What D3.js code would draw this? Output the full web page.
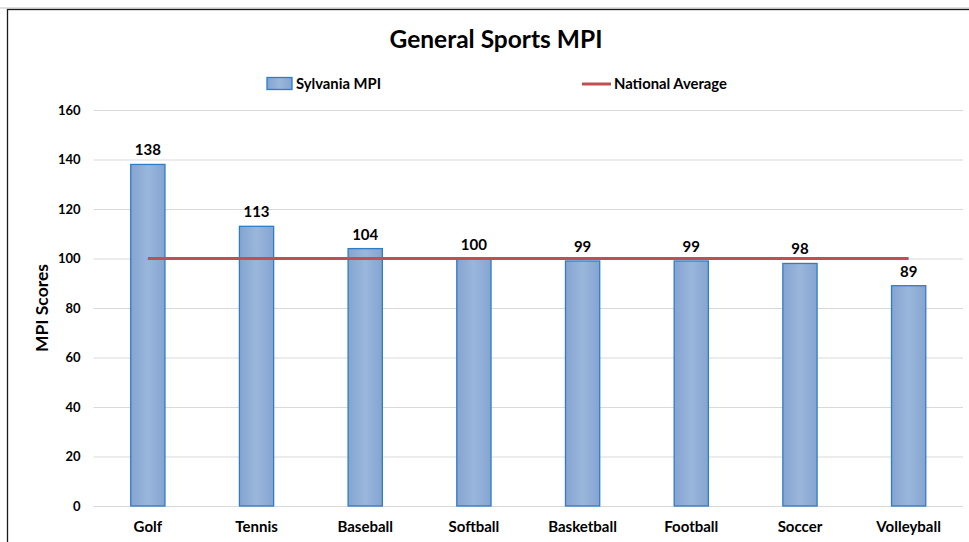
<!DOCTYPE html>
<html><head><meta charset="utf-8">
<script src="https://cdn.jsdelivr.net/npm/d3@7"></script>
<style>body{margin:0;background:#fff}svg{display:block}text{font-family:Lato,"Open Sans",sans-serif;font-weight:bold;fill:#000}</style>
</head><body>
<svg id="c" width="969" height="542"></svg>
<script>
const categories=["Golf","Tennis","Baseball","Softball","Basketball","Football","Soccer","Volleyball"];
const sylvaniaMPI=[138,113,104,100,99,99,98,89];
const nationalAverage=[100,100,100,100,100,100,100,100];
const yTicks=[0,20,40,60,80,100,120,140,160];

const svg=d3.select("#c");
const W=969,H=542;
const m={left:93.5,right:6,top:110,bottom:36};
svg.append("line").attr("x1",0).attr("x2",W).attr("y1",8).attr("y2",8).attr("stroke","#bfbfbf").attr("stroke-width",1);
svg.append("rect").attr("x",7.5).attr("y",9.5).attr("width",980).attr("height",600).attr("fill","#fff").attr("stroke","#1a1a1a").attr("stroke-width",1.3);

const x=d3.scaleBand().domain(categories).range([m.left,W-m.right]).paddingInner(0.685).paddingOuter(0.3425);
const y=d3.scaleLinear().domain([0,160]).range([H-m.bottom,m.top]);

const defs=svg.append("defs");
const g=defs.append("linearGradient").attr("id","bg").attr("x1","0").attr("x2","1").attr("y1","0").attr("y2","0");
g.append("stop").attr("offset","0").attr("stop-color","#85a4d0");
g.append("stop").attr("offset","0.5").attr("stop-color","#9ab6dc");
g.append("stop").attr("offset","1").attr("stop-color","#85a4d0");

// grid
const ya=d3.axisLeft(y).tickValues(yTicks).tickSize(-(W-m.right-m.left)).tickPadding(13);
const yg=svg.append("g").attr("transform",`translate(${m.left},0)`).call(ya);
yg.select(".domain").remove();
yg.selectAll(".tick line").attr("stroke","#d9d9d9").attr("stroke-width",1.2);
yg.selectAll(".tick text").style("font-size","13px").attr("fill","#000");

const xa=d3.axisBottom(x).tickSize(0).tickPadding(15);
const xg=svg.append("g").attr("transform",`translate(0,${y(0)})`).call(xa);
xg.select(".domain").remove();
xg.selectAll(".tick text").style("font-size","15px").attr("fill","#000");

svg.append("g").selectAll("rect").data(categories).join("rect")
 .attr("x",d=>x(d)).attr("width",x.bandwidth())
 .attr("y",(d,i)=>y(sylvaniaMPI[i])).attr("height",(d,i)=>y(0)-y(sylvaniaMPI[i]))
 .attr("fill","url(#bg)").attr("stroke","#2f7cc8").attr("stroke-width",1.3);

svg.append("g").selectAll("text").data(categories).join("text")
 .attr("x",d=>x(d)+x.bandwidth()/2).attr("y",(d,i)=>y(sylvaniaMPI[i])-9)
 .attr("text-anchor","middle").style("font-size","15px").text((d,i)=>sylvaniaMPI[i]);

const line=d3.line().x((d,i)=>x(categories[i])+x.bandwidth()/2).y(d=>y(d));
svg.append("path").datum(nationalAverage).attr("d",line).attr("fill","none").attr("stroke","#c0504d").attr("stroke-width",3);

svg.append("text").attr("x",496).attr("y",48).attr("text-anchor","middle").style("font-size","24.5px").text("General Sports MPI");

svg.append("rect").attr("x",267).attr("y",77.5).attr("width",25).attr("height",12).attr("fill","url(#bg)").attr("stroke","#2f7cc8").attr("stroke-width",1.3);
svg.append("text").attr("x",296).attr("y",89).style("font-size","14.8px").text("Sylvania MPI");
svg.append("line").attr("x1",582).attr("x2",611).attr("y1",84).attr("y2",84).attr("stroke","#c0504d").attr("stroke-width",3);
svg.append("text").attr("x",614).attr("y",89).style("font-size","14.8px").text("National Average");

svg.append("text").attr("transform",`translate(48,${(y(0)+y(160))/2}) rotate(-90)`).attr("text-anchor","middle").style("font-size","17.5px").text("MPI Scores");
</script>
</body></html>
